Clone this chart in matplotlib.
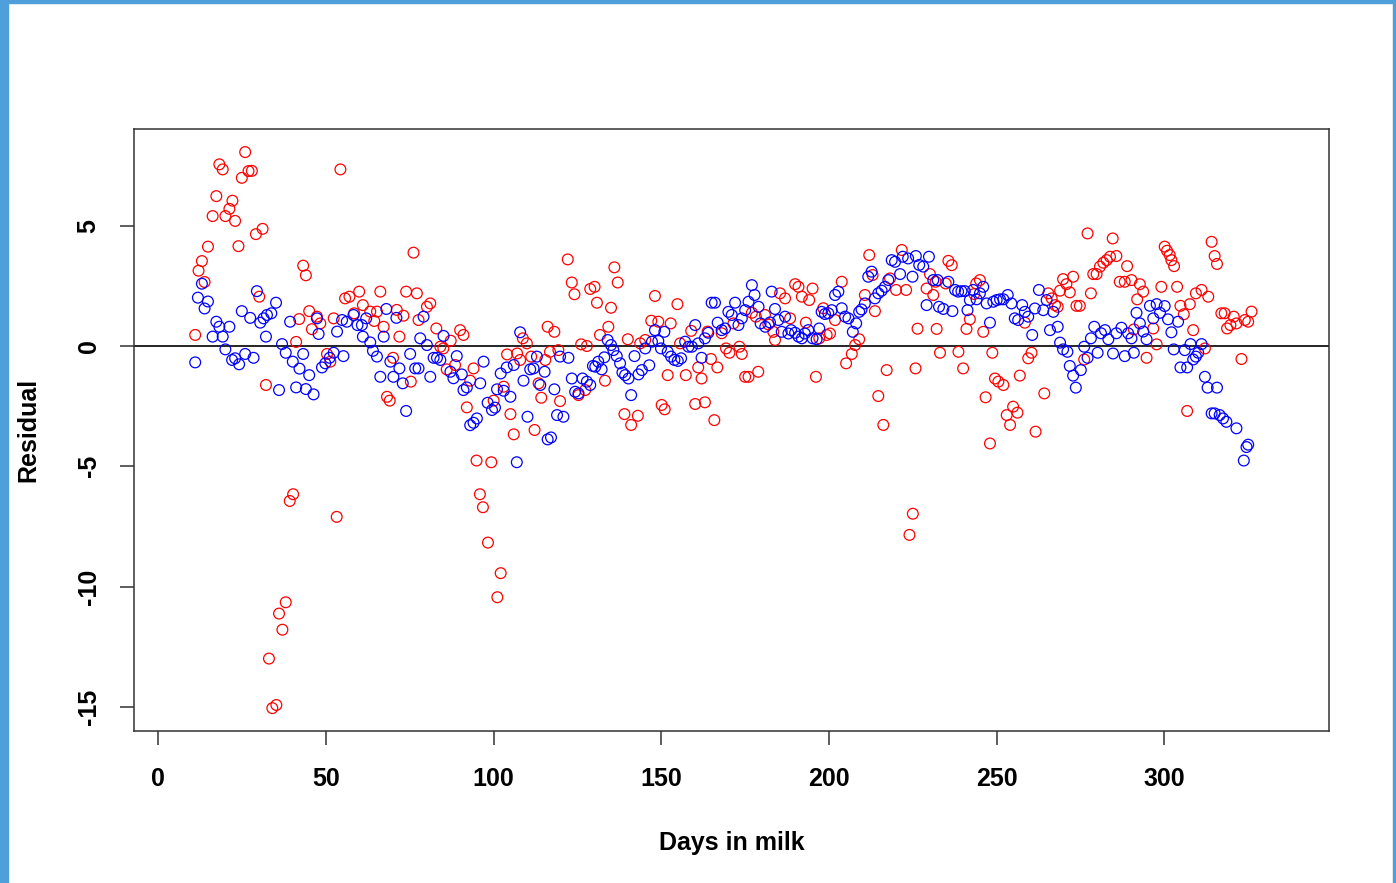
import numpy as np
import matplotlib
matplotlib.use("Agg")
import matplotlib.pyplot as plt
from matplotlib.patches import Rectangle

# residuals (day, residual)
red_days = [11.0,12.0,13.0,13.8,14.8,16.2,17.3,18.2,19.2,20.0,21.2,22.1,22.9,23.9,24.9,25.9,26.9,27.9,29.1,30.1,
	31.1,32.1,33.0,34.0,35.2,36.0,37.0,38.0,39.2,40.2,41.1,42.0,43.2,44.0,45.0,45.8,47.3,48.3,50.3,51.3,
	52.3,53.2,54.3,55.7,57.0,58.4,59.9,61.0,63.2,64.4,65.2,66.2,67.2,68.2,69.0,70.0,71.1,71.9,73.1,73.9,
	75.3,76.1,77.1,77.6,80.1,81.1,82.9,84.1,85.0,86.0,87.2,88.5,90.0,91.0,92.0,93.0,94.0,94.9,95.9,96.8,
	98.3,99.3,100.0,101.1,102.1,103.0,104.0,105.0,106.0,107.0,107.9,108.7,109.9,111.2,112.2,113.4,114.2,115.4,116.1,116.8,
	118.1,119.3,119.8,122.1,123.3,124.1,125.3,126.1,127.3,127.8,128.8,130.1,130.8,131.7,133.2,134.2,135.0,136.0,137.0,139.0,
	140.0,141.0,143.0,143.7,145.2,147.0,148.1,149.1,150.1,151.0,151.9,152.8,154.8,155.6,157.3,158.9,160.1,161.0,162.0,163.0,
	163.8,164.8,165.8,166.7,168.0,169.3,170.3,171.5,173.3,174.0,175.0,176.0,177.0,178.2,178.9,180.9,181.9,183.4,183.9,185.4,
	186.9,188.4,189.9,190.9,191.9,193.1,194.1,195.1,196.1,197.1,198.3,199.3,200.3,201.8,203.8,205.1,206.8,207.8,209.0,210.7,
	212.0,213.0,213.7,214.7,216.2,217.2,218.2,220.0,221.7,223.0,224.0,225.0,225.8,226.4,229.1,230.1,231.1,231.8,232.1,233.1,
	235.6,236.6,234.8,238.6,240.0,241.0,242.0,243.3,243.9,245.0,246.0,246.7,248.0,248.7,249.5,250.5,252.0,253.0,254.0,254.9,
	256.2,256.9,258.4,259.4,260.4,261.6,264.2,265.4,266.4,267.4,268.2,268.9,269.8,270.8,271.8,272.8,273.8,274.8,276.1,277.1,
	278.1,278.8,279.8,280.8,281.8,282.8,283.8,284.6,285.7,286.7,288.2,288.9,290.2,290.9,291.9,292.7,293.7,294.7,296.7,297.7,
	299.1,300.1,300.8,301.6,302.1,302.9,303.8,304.8,305.8,306.8,307.6,308.6,309.4,311.1,312.1,313.1,314.1,315.0,315.7,317.0,
	318.0,318.7,319.7,320.7,321.5,323.0,324.0,325.0,326.0]
red_resid = [0.46,3.13,3.53,2.66,4.13,5.4,6.23,7.55,7.34,5.4,5.7,6.04,5.2,4.15,6.99,8.06,7.27,7.28,4.65,2.05,
	4.87,-1.62,-12.99,-15.05,-14.92,-11.12,-11.79,-10.65,-6.44,-6.16,0.17,1.12,3.34,2.94,1.45,0.7,1.22,0.94,-0.33,-0.65,
	1.15,-7.1,7.34,1.98,2.05,1.36,2.26,1.7,1.43,1.04,1.43,2.26,0.8,-2.11,-2.27,-0.49,1.5,0.39,1.26,2.26,
	-1.48,3.88,2.19,1.08,1.63,1.77,0.73,-0.03,-0.1,-0.97,0.22,-0.79,0.66,0.46,-2.55,-1.44,-0.93,-4.76,-6.16,-6.7,
	-8.17,-4.83,-2.27,-10.44,-9.44,-1.69,-0.35,-2.83,-3.67,-0.31,-0.58,0.32,0.11,-0.44,-3.49,-1.55,-2.15,-0.58,0.8,-0.24,
	0.59,-0.17,-2.29,3.6,2.64,2.15,-2.04,0.07,-1.83,0.0,2.37,2.46,1.8,0.46,-1.44,0.8,1.59,3.27,2.64,-2.83,
	0.28,-3.28,-2.9,0.11,0.25,1.05,2.08,1.01,-2.45,-2.63,-1.21,0.94,1.74,0.11,-1.21,0.63,-2.41,-0.89,-1.35,-2.34,
	0.6,-0.54,-3.08,-0.89,0.53,-0.1,-0.28,0.94,-0.03,-0.33,-1.28,-1.28,1.38,1.22,-1.07,1.29,0.9,0.59,0.25,2.19,
	1.98,1.15,2.57,2.46,2.05,0.97,1.91,2.39,-1.28,0.32,1.57,0.46,0.52,1.08,2.67,-0.72,-0.33,0.04,0.28,2.12,
	3.78,2.95,1.45,-2.08,-3.28,-1.0,2.81,2.33,3.99,2.33,-7.85,-6.97,-0.93,0.72,2.39,2.99,2.12,2.67,0.71,-0.28,
	3.54,3.36,2.6,-0.24,-0.93,0.71,1.11,2.16,2.6,2.74,0.59,-2.13,-4.05,-0.28,-1.35,-1.48,-1.62,-2.87,-3.28,-2.52,
	-2.77,-1.23,0.97,-0.51,-0.28,-3.56,-1.97,2.19,1.98,1.7,1.63,2.3,2.78,2.57,2.23,2.88,1.67,1.67,-0.56,4.68,
	2.19,2.99,2.99,3.3,3.46,3.57,3.71,4.47,3.74,2.67,2.67,3.32,2.74,0.69,1.94,2.57,2.26,-0.49,0.73,0.07,
	2.46,4.13,3.96,3.78,3.57,3.32,2.46,1.67,1.32,-2.7,1.74,0.66,2.19,2.33,-0.1,2.05,4.33,3.74,3.41,1.36,
	1.36,0.73,0.87,1.22,0.94,-0.54,1.08,1.01,1.43]

blue_days = [11.0,11.8,13.0,13.8,14.8,16.2,17.3,18.2,19.2,20.0,21.2,22.0,22.9,24.1,24.9,25.9,27.4,28.4,29.4,30.4,
	31.4,32.1,32.4,33.7,35.1,36.0,36.9,38.0,39.3,40.1,41.1,42.1,43.2,44.0,45.0,46.3,47.3,47.8,48.8,49.8,
	51.1,52.3,53.3,54.8,55.2,56.2,58.2,59.4,60.7,61.0,62.0,63.2,64.0,65.2,66.2,67.2,68.0,69.2,70.1,71.0,
	71.9,72.9,73.9,75.1,76.6,77.6,78.1,79.1,80.1,81.1,82.1,83.1,84.1,85.05,87.1,88.0,89.0,90.5,91.0,92.0,
	93.0,94.0,95.0,96.0,97.0,98.2,99.5,100.4,101.0,102.1,103.0,103.9,105.0,106.0,106.9,107.9,108.9,110.1,110.9,111.9,
	112.9,113.9,115.2,116.1,117.1,118.1,118.9,119.8,120.8,122.3,123.3,124.3,125.3,126.5,127.8,128.8,129.6,130.3,131.2,132.2,
	133.0,134.0,135.0,135.7,136.7,137.7,138.4,139.2,140.2,141.0,142.0,143.2,144.2,145.2,146.4,147.2,148.1,149.1,149.9,150.9,
	151.9,152.9,153.9,154.9,155.9,157.1,158.1,159.1,160.1,161.0,162.0,163.0,164.0,165.0,166.0,166.8,168.0,169.0,170.0,171.0,
	172.0,173.0,174.0,175.0,176.0,177.0,177.8,179.0,179.6,181.0,182.4,182.9,183.9,184.9,185.9,186.9,187.9,188.7,189.9,190.9,
	191.9,192.8,193.8,195.1,196.3,197.1,197.8,198.8,199.8,200.8,201.8,202.8,203.8,204.8,205.8,207.1,208.1,209.0,209.7,210.7,
	211.7,212.7,213.7,214.7,215.7,216.7,217.7,218.7,219.7,221.2,222.0,223.6,224.9,225.9,226.9,228.1,229.1,229.8,231.1,232.4,
	232.8,234.1,235.6,236.8,237.6,238.5,239.5,240.5,241.3,242.0,243.0,244.0,245.0,246.0,247.0,248.0,249.0,250.0,251.0,252.0,
	253.3,254.4,255.4,256.4,257.6,258.4,259.4,260.6,261.4,262.6,263.9,264.9,265.9,266.9,268.2,268.9,269.8,271.1,271.8,272.8,
	273.6,275.1,276.1,277.1,278.1,279.1,280.1,281.1,282.3,283.3,284.7,285.7,287.2,288.2,289.2,290.2,290.9,291.7,292.7,293.7,
	294.7,295.7,296.7,297.7,298.7,300.1,301.1,302.1,302.8,304.1,304.8,306.1,306.8,307.8,308.6,309.4,310.1,311.1,312.1,312.9,
	314.1,315.0,315.7,316.5,317.5,318.5,321.5,323.7,324.5,325.0]
blue_resid = [-0.68,2.01,2.59,1.56,1.85,0.39,1.01,0.8,0.39,-0.14,0.8,-0.58,-0.51,-0.76,1.45,-0.33,1.17,-0.49,2.28,0.97,
	1.15,0.39,1.29,1.36,1.8,-1.83,0.08,-0.28,1.01,-0.65,-1.72,-0.94,-0.33,-1.79,-1.21,-2.01,1.15,0.5,-0.89,-0.72,
	-0.49,-0.28,0.6,1.08,-0.42,1.01,1.29,0.87,0.87,0.39,1.15,0.15,-0.2,-0.44,-1.28,0.39,1.54,-0.65,-1.28,1.17,
	-0.93,-1.55,-2.7,-0.33,-0.93,-0.93,0.32,1.22,0.04,-1.28,-0.49,-0.49,-0.58,0.42,-1.07,-1.34,-0.42,-1.18,-1.83,-1.72,
	-3.29,-3.19,-3.01,-1.55,-0.65,-2.36,-2.66,-2.56,-1.8,-1.14,-1.86,-0.89,-2.11,-0.79,-4.83,0.57,-1.44,-2.94,-0.97,-0.93,
	-0.44,-1.62,-1.07,-3.88,-3.8,-1.8,-2.87,-0.44,-2.94,-0.49,-1.35,-1.9,-1.97,-1.35,-1.48,-1.62,-0.83,-0.86,-0.65,-0.97,
	-0.47,0.25,0.04,-0.17,-0.42,-0.72,-1.1,-1.21,-1.35,-2.04,-0.42,-1.18,-1.0,-0.1,-0.8,0.18,0.66,0.21,-0.1,0.59,
	-0.24,-0.44,-0.58,-0.62,-0.51,0.18,-0.03,-0.03,0.87,0.11,-0.49,0.32,0.55,1.8,1.8,0.97,0.66,0.73,1.42,1.29,
	1.8,0.87,1.15,1.49,1.84,2.53,2.12,1.63,0.94,0.8,0.98,2.26,1.54,1.08,0.59,1.22,0.52,0.66,0.55,0.39,
	0.32,0.52,0.66,0.32,0.28,0.73,1.42,1.33,1.36,1.49,2.12,2.26,1.57,1.22,1.15,0.59,0.94,1.42,1.52,1.77,
	2.88,3.09,1.98,2.19,2.3,2.46,2.74,3.57,3.5,2.99,3.71,3.64,2.88,3.74,3.37,3.3,1.7,3.71,2.74,2.74,
	1.63,1.54,2.67,1.45,2.33,2.26,2.28,2.28,1.49,1.91,2.33,1.94,2.19,2.46,1.77,0.97,1.84,1.91,1.94,1.94,
	2.12,1.77,1.15,1.08,1.7,1.42,1.22,0.46,1.56,2.33,1.49,1.91,0.66,1.42,0.8,0.14,-0.14,-0.24,-0.83,-1.23,
	-1.73,-1.0,-0.03,-0.49,0.32,0.8,-0.28,0.53,0.66,0.28,-0.31,0.53,0.76,-0.42,0.53,0.32,-0.28,1.38,0.94,0.6,
	0.28,1.67,1.15,1.74,1.38,1.66,1.11,0.57,-0.14,1.01,-0.89,-0.17,-0.89,0.08,-0.56,-0.44,-0.28,0.08,-1.28,-1.73,
	-2.8,-2.8,-1.73,-2.87,-3.01,-3.15,-3.42,-4.76,-4.2,-4.1]

xticks = [0, 50, 100, 150, 200, 250, 300]
yticks = [-15, -10, -5, 0, 5]

plt.rcParams['font.family'] = ['Liberation Sans', 'DejaVu Sans']
plt.rcParams['axes.unicode_minus'] = False

fig = plt.figure(figsize=(13.96, 8.83), dpi=100)
W, H = 1396, 883
ax = fig.add_axes([134/W, 1-731/H, (1329-134)/W, (731-128.5)/H])

ax.scatter(red_days, red_resid, s=60, facecolors='none', edgecolors='#ff0000', linewidths=0.9, zorder=3)
ax.scatter(blue_days, blue_resid, s=60, facecolors='none', edgecolors='#0000ff', linewidths=0.9, zorder=3)
ax.axhline(0, color='black', lw=1.2, zorder=2)

ax.set_xlim(-7.25, 349.1)
ax.set_ylim(-16.0, 9.04)
ax.set_xticks(xticks)
ax.set_yticks(yticks)
ax.tick_params(length=10, width=1.1, pad=16, labelsize=18, color='#333333')
ax.tick_params(axis='y', labelrotation=90, pad=14)
for lab in ax.get_xticklabels() + ax.get_yticklabels():
	lab.set_fontweight('bold')
for lab in ax.get_yticklabels():
	lab.set_va('center')
for sp in ax.spines.values():
	sp.set_linewidth(1.1)
	sp.set_color('#333333')

ax.set_xlabel('Days in milk', fontsize=18, fontweight='bold', labelpad=29)
ax.set_ylabel('Residual', fontsize=18, fontweight='bold', labelpad=26)

# blue window frame round the screenshot
bc = '#4f9fda'
fig.patches.append(Rectangle((0, 0), 8/W, 1, transform=fig.transFigure, color=bc, zorder=0))
fig.patches.append(Rectangle((0, 1-3/H), 1, 3/H, transform=fig.transFigure, color=bc, zorder=0))
fig.patches.append(Rectangle((1-3/W, 0), 3/W, 1, transform=fig.transFigure, color=bc, zorder=0))

fig.savefig('out.png', dpi=100)
